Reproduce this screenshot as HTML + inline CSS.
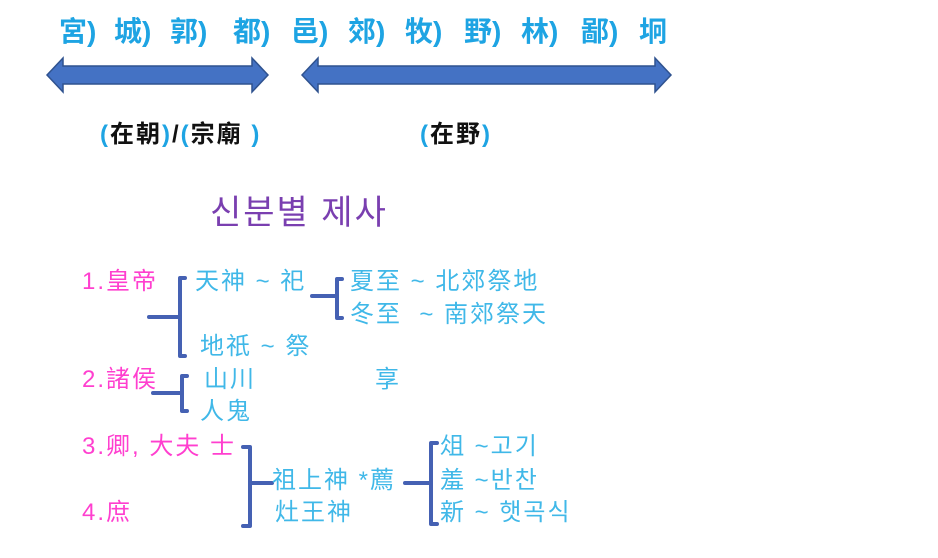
<!DOCTYPE html>
<html><head><meta charset="utf-8"><style>
html,body{margin:0;padding:0;background:#fff;}
body{width:938px;height:558px;position:relative;overflow:hidden;font-family:"Liberation Sans","Noto Sans CJK SC",sans-serif;}
.t{position:absolute;white-space:nowrap;line-height:1;}
.top{color:#1ea4e3;font-weight:bold;font-size:28px;top:18px;}
.lab{font-weight:bold;font-size:24px;top:123px;color:#111;letter-spacing:2px;}
.lab b{color:#1ea4e3;}
.m{color:#ff3fcf;font-size:24px;letter-spacing:2px;}
.c{color:#40b8e8;font-size:24px;letter-spacing:2px;}
.k{font-family:"Liberation Sans","Noto Sans CJK KR",sans-serif;}
</style></head><body>
<span class="t top" style="left:59px">宮)</span>
<span class="t top" style="left:114px">城)</span>
<span class="t top" style="left:170px">郭)</span>
<span class="t top" style="left:233px">都)</span>
<span class="t top" style="left:291px">邑)</span>
<span class="t top" style="left:348px">郊)</span>
<span class="t top" style="left:405px">牧)</span>
<span class="t top" style="left:464px">野)</span>
<span class="t top" style="left:521px">林)</span>
<span class="t top" style="left:581px">鄙)</span>
<span class="t top" style="left:639px">坰</span>

<svg width="938" height="558" style="position:absolute;left:0;top:0">
<g fill="#4472c4" stroke="#2f528f" stroke-width="1.5">
<polygon points="47,75 63,58 63,66 252,66 252,58 268,75 252,92 252,84 63,84 63,92"/>
<polygon points="302,75 318,58 318,66 655,66 655,58 671,75 655,92 655,84 318,84 318,92"/>
</g>
<g fill="none" stroke="#4561b3" stroke-width="4" stroke-linecap="round" stroke-linejoin="round">
<path d="M185,278 H180 V356 H185"/>
<path d="M149,317 H180"/>
<path d="M342,279 H337 V318 H342"/>
<path d="M312,296 H337"/>
<path d="M187,376 H182 V411 H187"/>
<path d="M153,393 H182"/>
<path d="M243,447 H250 V526 H243"/>
<path d="M250,483 H272"/>
<path d="M437,443 H431 V524 H437"/>
<path d="M405,483 H431"/>
</g>
</svg>

<span class="t lab" style="left:100px"><b>(</b>在朝<b>)</b>/<b>(</b>宗廟 <b>)</b></span>
<span class="t lab" style="left:420px"><b>(</b>在野<b>)</b></span>

<span class="t k" style="left:210px;top:196px;font-size:34px;letter-spacing:2px;color:#7a3fb0">신분별 제사</span>

<span class="t m" style="left:82px;top:270px">1.皇帝</span>
<span class="t c" style="left:195px;top:270px">天神 ~ 祀</span>
<span class="t c" style="left:350px;top:270px">夏至 ~ 北郊祭地</span>
<span class="t c" style="left:350px;top:303px">冬至&nbsp; ~ 南郊祭天</span>
<span class="t c" style="left:200px;top:335px">地祇 ~ 祭</span>
<span class="t m" style="left:82px;top:368px">2.諸侯</span>
<span class="t c" style="left:204px;top:368px">山川</span>
<span class="t c" style="left:375px;top:368px">享</span>
<span class="t c" style="left:200px;top:400px">人鬼</span>
<span class="t m" style="left:82px;top:435px">3.卿, 大夫 士</span>
<span class="t m" style="left:82px;top:501px">4.庶</span>
<span class="t c" style="left:272px;top:469px">祖上神 *薦</span>
<span class="t c" style="left:275px;top:501px">灶王神</span>
<span class="t c k" style="left:440px;top:435px">俎 ~고기</span>
<span class="t c k" style="left:440px;top:469px">羞 ~반찬</span>
<span class="t c k" style="left:440px;top:501px">新 ~ 햇곡식</span>
</body></html>
